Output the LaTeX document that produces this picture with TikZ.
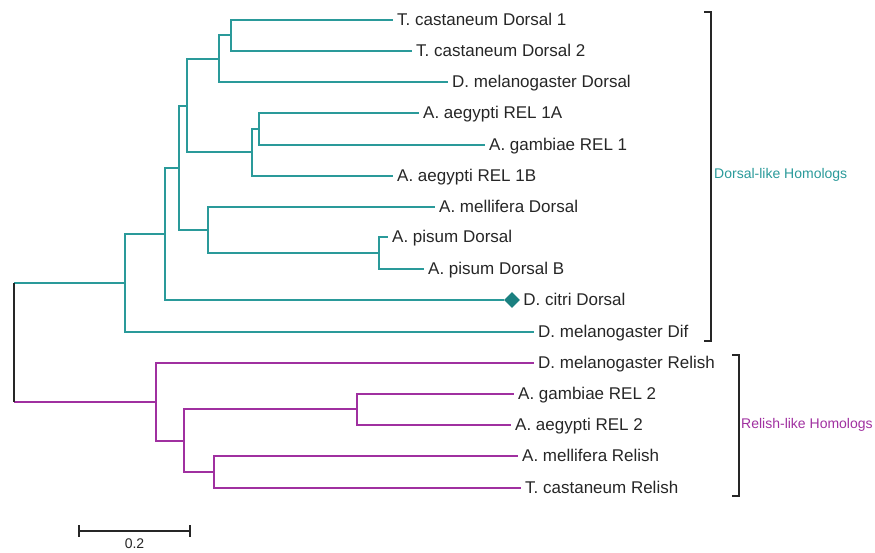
\documentclass[tikz,border=0pt]{standalone}
\usepackage{xcolor}
\usepackage{fontspec}
\setmainfont{Liberation Sans}
\usepackage{tikz}
\usetikzlibrary{shapes,positioning,calc}

\definecolor{dorsalteal}{HTML}{2A9A9A}
\definecolor{citriteal}{HTML}{1A8080}
\definecolor{relishpurple}{HTML}{A030A0}

\begin{document}
\begin{tikzpicture}[x=1pt, y=-1pt,
        leaf/.style={anchor=west, inner xsep=4pt, inner ysep=0pt, text height=10pt, text depth=0pt, font=\fontsize{17}{20}\selectfont, text=black!85},
        dbranch/.style={draw=dorsalteal, line width=1.4pt},
        rbranch/.style={draw=relishpurple, line width=1.4pt},
        rootline/.style={draw=black!85, line width=1.4pt},
        bracket/.style={draw=black!85, line width=1.4pt},
        grouplabel/.style={anchor=west, inner sep=0pt, font=\fontsize{14}{16}\selectfont},
        marker/.style={diamond, fill=citriteal, minimum size=16pt, inner sep=0pt},
      ]
      \useasboundingbox (0,0) rectangle (875,552);
      % leaves
      \node [leaf] (tcd1) at (393,20) {T. castaneum Dorsal 1};
      \node [leaf] (tcd2) at (412,51) {T. castaneum Dorsal 2};
      \node [leaf] (dmd) at (448,82) {D. melanogaster Dorsal};
      \node [leaf] (aeg1a) at (419,113) {A. aegypti REL 1A};
      \node [leaf] (gam1) at (485,145) {A. gambiae REL 1};
      \node [leaf] (aeg1b) at (393,176) {A. aegypti REL 1B};
      \node [leaf] (amd) at (435,207) {A. mellifera Dorsal};
      \node [leaf] (apd) at (388,237) {A. pisum Dorsal};
      \node [leaf] (apdb) at (424,269) {A. pisum Dorsal B};
      \node [marker] (citrimark) at (512,300) {};
      \node [leaf, right=-1pt of citrimark] (citri) {D. citri Dorsal};
      \node [leaf] (dif) at (534,332) {D. melanogaster Dif};
      \node [leaf] (dmr) at (534,363) {D. melanogaster Relish};
      \node [leaf] (gam2) at (514,394) {A. gambiae REL 2};
      \node [leaf] (aeg2) at (511,425) {A. aegypti REL 2};
      \node [leaf] (amr) at (518,456) {A. mellifera Relish};
      \node [leaf] (tcr) at (521,488) {T. castaneum Relish};
      % inner nodes
      \coordinate (n1) at (231,35);
      \coordinate (n2) at (219,59);
      \coordinate (n3) at (259,129);
      \coordinate (n4) at (252,152);
      \coordinate (n5) at (187,106);
      \coordinate (n6) at (379,253);
      \coordinate (n7) at (208,230);
      \coordinate (n8) at (179,168);
      \coordinate (n9) at (165,234);
      \coordinate (n10) at (125,283);
      \coordinate (r1) at (357,409);
      \coordinate (r2) at (214,472);
      \coordinate (r3) at (184,441);
      \coordinate (r4) at (156,402);
      \coordinate (rtop) at (14,283);
      \coordinate (rbot) at (14,402);
      % dorsal clade
      \draw [dbranch] (n1) |- (tcd1.west);
      \draw [dbranch] (n1) |- (tcd2.west);
      \draw [dbranch] (n2) |- (n1);
      \draw [dbranch] (n2) |- (dmd.west);
      \draw [dbranch] (n3) |- (aeg1a.west);
      \draw [dbranch] (n3) |- (gam1.west);
      \draw [dbranch] (n4) |- (n3);
      \draw [dbranch] (n4) |- (aeg1b.west);
      \draw [dbranch] (n5) |- (n2);
      \draw [dbranch] (n5) |- (n4);
      \draw [dbranch] (n6) |- (apd.west);
      \draw [dbranch] (n6) |- (apdb.west);
      \draw [dbranch] (n7) |- (amd.west);
      \draw [dbranch] (n7) |- (n6);
      \draw [dbranch] (n8) |- (n5);
      \draw [dbranch] (n8) |- (n7);
      \draw [dbranch] (n9) |- (n8);
      \draw [dbranch] (n9) |- (citrimark.west);
      \draw [dbranch] (n10) |- (n9);
      \draw [dbranch] (n10) |- (dif.west);
      \draw [dbranch] (rtop) -- (n10);
      % relish clade
      \draw [rbranch] (r1) |- (gam2.west);
      \draw [rbranch] (r1) |- (aeg2.west);
      \draw [rbranch] (r2) |- (amr.west);
      \draw [rbranch] (r2) |- (tcr.west);
      \draw [rbranch] (r3) |- (r1);
      \draw [rbranch] (r3) |- (r2);
      \draw [rbranch] (r4) |- (dmr.west);
      \draw [rbranch] (r4) |- (r3);
      \draw [rbranch] (rbot) -- (r4);
      % root
      \draw [rootline] (rtop) -- (rbot);
      % groups
      \draw [bracket] (704,12) -- (711,12) -- (711,341) -- (704,341);
      \node [grouplabel, text=dorsalteal] (dorsalgrp) at (714,175) {Dorsal-like Homologs};
      \draw [bracket] (732,355) -- (739,355) -- (739,496) -- (732,496);
      \node [grouplabel, text=relishpurple] (relishgrp) at (741,425) {Relish-like Homologs};
      % scale bar
      \coordinate (sbl) at (79,531);
      \coordinate (sbr) at (190,531);
      \draw [rootline] (sbl) -- (sbr);
      \draw [rootline] ($(sbl)+(0,-6)$) -- ($(sbl)+(0,6)$);
      \draw [rootline] ($(sbr)+(0,-6)$) -- ($(sbr)+(0,6)$);
      \node [grouplabel, anchor=center, text=black!85] (sblabel) at (134.5,544) {0.2};
    \end{tikzpicture}
\end{document}
